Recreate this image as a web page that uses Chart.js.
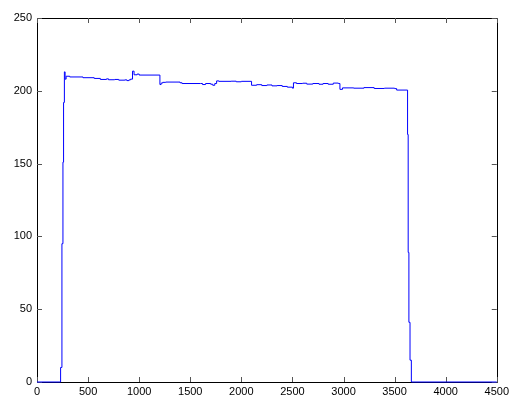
<!DOCTYPE html>
<html>
<head>
<meta charset="utf-8">
<script src="https://cdn.jsdelivr.net/npm/chart.js@4/dist/chart.umd.min.js"></script>
<style>
body{margin:0;background:#fff;}
#wrap{width:512px;height:398px;}
</style>
</head>
<body>
<div id="wrap"><canvas id="levelChart" width="512" height="398"></canvas></div>
<script>
// sample index (x) and reading (y)
const sampleX = [0,231,244,254,260,268,275,285,320,450,560,620,680,700,760,800,860,880,900,915,935,950,980,1000,1203,1215,1230,1260,1400,1420,1600,1620,1650,1700,1720,1740,1758,1780,1900,1950,2000,2100,2150,2200,2250,2300,2350,2400,2450,2500,2510,2540,2600,2640,2700,2760,2800,2850,2900,2950,2965,2990,3100,3200,3300,3400,3500,3520,3627,3633,3640,3651,3664,4500];
const sampleY = [0,10,95,151,192,213,208,210,209.5,209,208.5,207.8,208.2,207.6,207.8,207.3,207.5,207,207.5,208,213.5,211,211.5,210.8,204.3,205.3,205.8,206,205.5,205,205,204.3,205,204.5,203.8,205,206.8,206.5,206.6,206.2,206.5,203.8,204.2,203.6,204,203.4,203.6,203,202.5,201.8,205.5,205,205.2,204.6,205,204.5,205,204.5,205.3,205,201,202,201.8,202.2,201.6,201.8,201.5,200.5,170,89,41,15,0,0];

const xTicks = [0,500,1000,1500,2000,2500,3000,3500,4000,4500];
const yTicks = [0,50,100,150,200,250];

const points = sampleX.map((x,i)=>({x:x,y:sampleY[i]}));

// matlab style box with inward ticks on all four sides, under the line
const boxTicks = {
  id:"boxTicks",
  beforeDatasetsDraw(chart){
    const c = chart.ctx;
    const a = chart.chartArea;
    const xs = chart.scales.x, ys = chart.scales.y;
    c.save();
    c.strokeStyle = "#000";
    c.lineWidth = 1;
    c.beginPath();
    c.rect(Math.round(a.left)+0.5, Math.round(a.top)+0.5, Math.round(a.right-a.left), Math.round(a.bottom-a.top));
    c.stroke();
    c.strokeStyle = "#555";
    c.beginPath();
    xTicks.forEach(v=>{
      const px = Math.round(xs.getPixelForValue(v))+0.5;
      c.moveTo(px,a.bottom); c.lineTo(px,a.bottom-5);
      c.moveTo(px,a.top); c.lineTo(px,a.top+5);
    });
    yTicks.forEach(v=>{
      const py = Math.round(ys.getPixelForValue(v))+0.5;
      c.moveTo(a.left,py); c.lineTo(a.left+5,py);
      c.moveTo(a.right,py); c.lineTo(a.right-5,py);
    });
    c.stroke();
    c.restore();
  }
};

const chart = new Chart(document.getElementById("levelChart"),{
type:"scatter",
data:{
datasets:[{
data:points,
showLine:true,
stepped:"before",
borderColor:"#0000ff",
borderWidth:1,
pointRadius:0,
fill:false,
clip:false
}]
},
options:{
responsive:false,
animation:false,
events:[],
layout:{padding:{top:18,right:14,left:0,bottom:0}},
plugins:{legend:{display:false},tooltip:{enabled:false}},
scales:{
x:{
type:"linear",min:0,max:4500,
afterFit(s){ s.height = 16; },
afterBuildTicks(s){ s.ticks = xTicks.map(v=>({value:v})); },
grid:{display:false,drawTicks:false},
border:{display:false},
ticks:{color:"#000",padding:3,maxRotation:0,autoSkip:false,callback:v=>String(v),font:{family:"Liberation Sans, Arial",size:11}}
},
y:{
min:0,max:250,
afterFit(s){ s.width = 37; },
afterBuildTicks(s){ s.ticks = yTicks.map(v=>({value:v})); },
grid:{display:false,drawTicks:false},
border:{display:false},
ticks:{color:"#000",padding:5,callback:v=>String(v),font:{family:"Liberation Sans, Arial",size:11}}
}
}
},
plugins:[boxTicks]
});
</script>
</body>
</html>
